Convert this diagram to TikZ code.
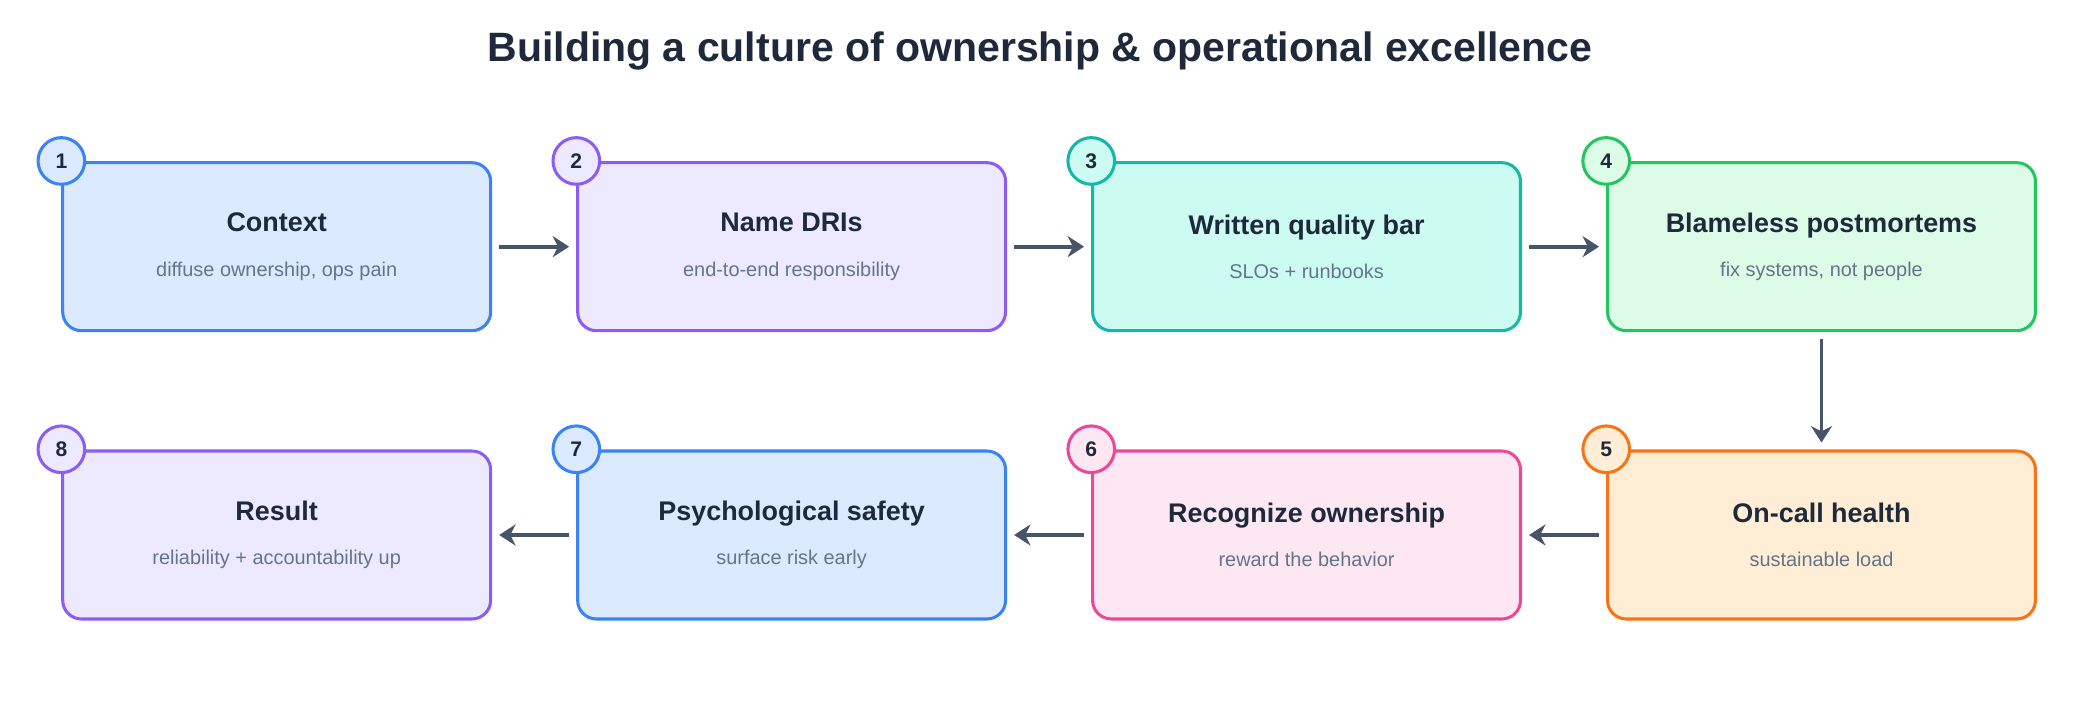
\documentclass[tikz,border=0pt]{standalone}
\usepackage{fontspec}
\setmainfont{Liberation Sans}
\usepackage{xcolor}
\usetikzlibrary{arrows.meta, positioning}
\definecolor{ink}{HTML}{1E293B}
\definecolor{subgray}{HTML}{64748B}
\definecolor{arrowgray}{HTML}{475569}
\definecolor{blueB}{HTML}{3B82F6}\definecolor{blueF}{HTML}{DBEAFE}
\definecolor{purpB}{HTML}{8B5CF6}\definecolor{purpF}{HTML}{EDE9FE}
\definecolor{tealB}{HTML}{14B8A6}\definecolor{tealF}{HTML}{CCFBF1}
\definecolor{greenB}{HTML}{22C55E}\definecolor{greenF}{HTML}{DCFCE7}
\definecolor{orangeB}{HTML}{F97316}\definecolor{orangeF}{HTML}{FFEDD5}
\definecolor{pinkB}{HTML}{EC4899}\definecolor{pinkF}{HTML}{FCE7F3}
\newcommand{\steptext}[2]{{\fontsize{11.5}{14}\selectfont\bfseries #1}\\[7pt]{\fontsize{8.5}{10}\selectfont\color{subgray}#2}}
\tikzset{
    stage/.style={
        rectangle,
        rounded corners=0.28cm,
        line width=1.3pt,
        minimum width=6.42cm,
        minimum height=2.52cm,
        align=center,
        text=ink
    },
    badge/.style={
        circle,
        line width=1.3pt,
        minimum size=0.7cm,
        inner sep=0pt,
        text=ink,
        font=\fontsize{9}{10}\selectfont\bfseries
    },
    flow/.style={
        draw=arrowgray,
        line width=1.6pt,
        -{Stealth[length=7pt,width=9pt]},
        shorten >=3pt,
        shorten <=3pt
    }
}

\begin{document}
\begin{tikzpicture}[x=0.02cm, y=-0.02cm, node distance=1.26cm and 1.26cm]

\useasboundingbox (0,0) rectangle (1560,528);

\node[font=\fontsize{17.5}{20}\selectfont\bfseries, text=ink] (title) at (780,38) {Building a culture of ownership \& operational excellence};

% top row
\node[stage, draw=blueB, fill=blueF] (s1) at (207.5,185) {\steptext{Context}{diffuse ownership, ops pain}};
\node[stage, draw=purpB, fill=purpF, right=of s1] (s2) {\steptext{Name DRIs}{end-to-end responsibility}};
\node[stage, draw=tealB, fill=tealF, right=of s2] (s3) {\steptext{Written quality bar}{SLOs + runbooks}};
\node[stage, draw=greenB, fill=greenF, right=of s3] (s4) {\steptext{Blameless postmortems}{fix systems, not people}};

% bottom row
\node[stage, draw=orangeB, fill=orangeF, below=1.76cm of s4] (s5) {\steptext{On-call health}{sustainable load}};
\node[stage, draw=pinkB, fill=pinkF, left=of s5] (s6) {\steptext{Recognize ownership}{reward the behavior}};
\node[stage, draw=blueB, fill=blueF, left=of s6] (s7) {\steptext{Psychological safety}{surface risk early}};
\node[stage, draw=purpB, fill=purpF, left=of s7] (s8) {\steptext{Result}{reliability + accountability up}};

% badges
\node[badge, draw=blueB, fill=blueF] (b1) at ([shift={(0.14,-0.16)}]s1.north west) {1};
\node[badge, draw=purpB, fill=purpF] (b2) at ([shift={(0.14,-0.16)}]s2.north west) {2};
\node[badge, draw=tealB, fill=tealF] (b3) at ([shift={(0.14,-0.16)}]s3.north west) {3};
\node[badge, draw=greenB, fill=greenF] (b4) at ([shift={(0.14,-0.16)}]s4.north west) {4};
\node[badge, draw=orangeB, fill=orangeF] (b5) at ([shift={(0.14,-0.16)}]s5.north west) {5};
\node[badge, draw=pinkB, fill=pinkF] (b6) at ([shift={(0.14,-0.16)}]s6.north west) {6};
\node[badge, draw=blueB, fill=blueF] (b7) at ([shift={(0.14,-0.16)}]s7.north west) {7};
\node[badge, draw=purpB, fill=purpF] (b8) at ([shift={(0.14,-0.16)}]s8.north west) {8};

\draw[flow] (s1) -- (s2);
\draw[flow] (s2) -- (s3);
\draw[flow] (s3) -- (s4);
\draw[flow] (s4) -- (s5);
\draw[flow] (s5) -- (s6);
\draw[flow] (s6) -- (s7);
\draw[flow] (s7) -- (s8);

\end{tikzpicture}
\end{document}
